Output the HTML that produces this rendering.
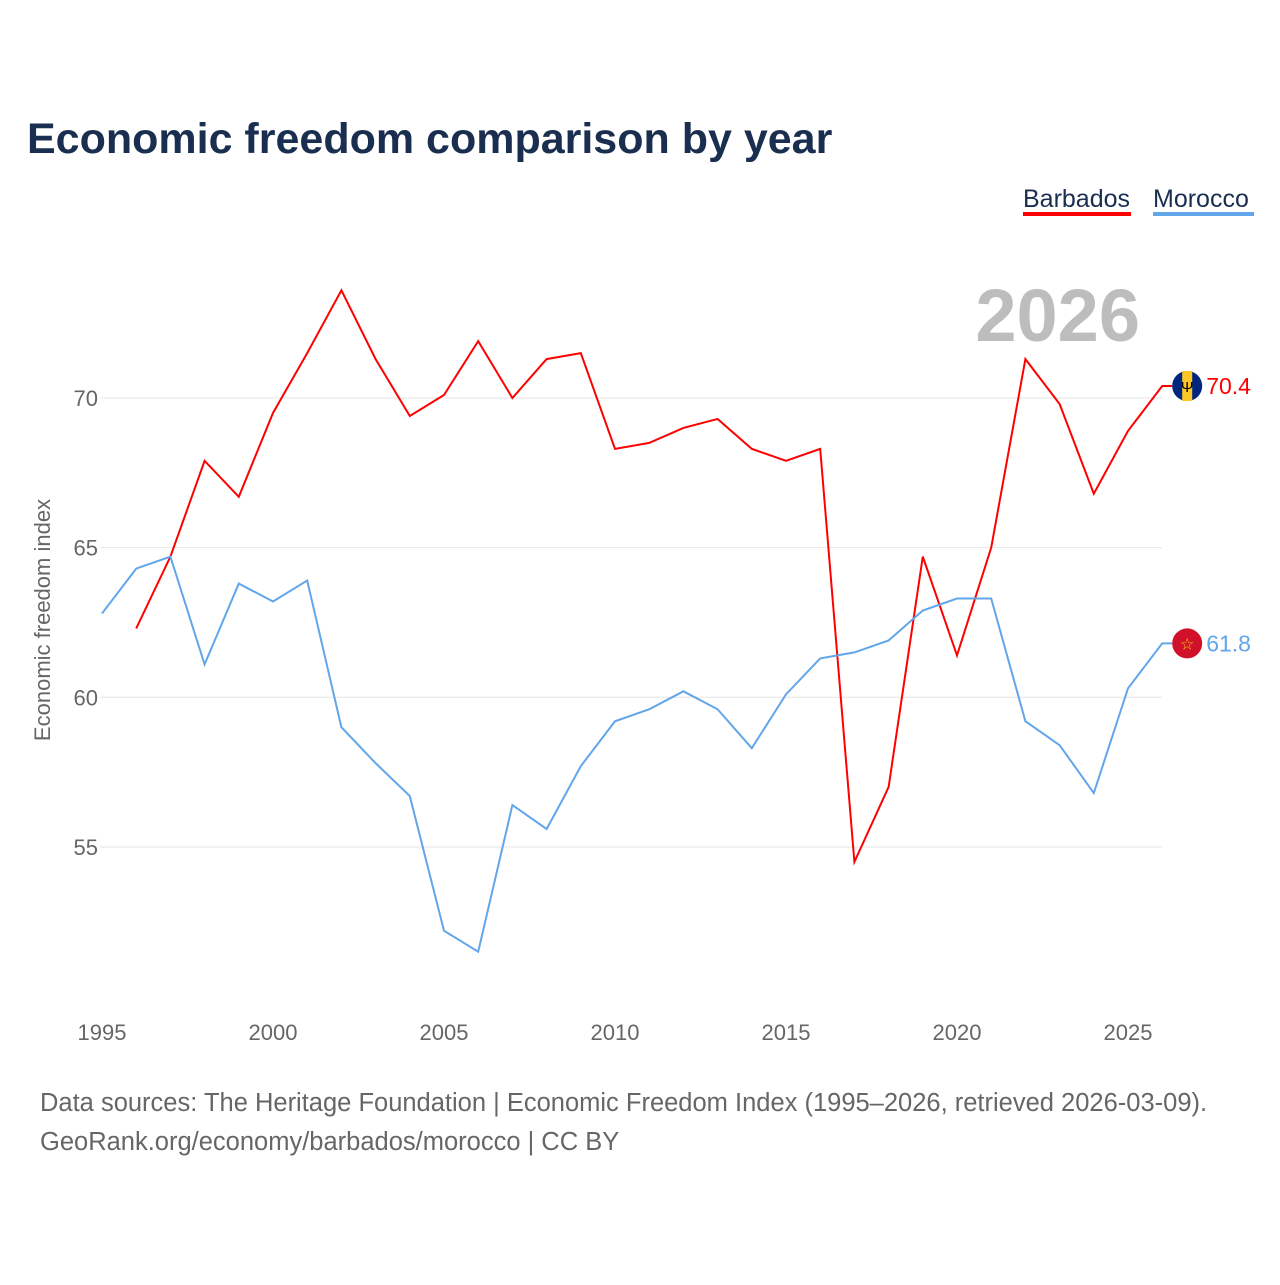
<!DOCTYPE html>
<html><head><meta charset="utf-8"><style>
body{margin:0;background:#fff;font-family:"Liberation Sans",sans-serif;}
svg text{font-family:"Liberation Sans",sans-serif;}
</style></head><body>
<svg width="1280" height="1280">
<text x="27" y="153" font-size="43" font-weight="bold" fill="#1a2e4f">Economic freedom comparison by year</text>
<g>
<text x="1023" y="207" font-size="25" fill="#1a2e4f">Barbados</text>
<rect x="1023" y="212" width="108" height="4" fill="#ff0000"/>
<text x="1153" y="207" font-size="25" fill="#1a2e4f">Morocco</text>
<rect x="1153" y="212" width="101" height="4" fill="#62a6ea"/>
</g>
<text x="1140" y="341" font-size="74" font-weight="bold" fill="#bdbdbd" text-anchor="end">2026</text>
<text transform="translate(50,620) rotate(-90)" font-size="22" fill="#666" text-anchor="middle">Economic freedom index</text>
<g id="grid"></g><g id="xt"></g><g id="lines"></g>
<text x="40" y="1111" font-size="25.5" fill="#666">Data sources: The Heritage Foundation | Economic Freedom Index (1995–2026, retrieved 2026-03-09).</text>
<text x="40" y="1150" font-size="25.5" fill="#666">GeoRank.org/economy/barbados/morocco | CC BY</text>
</svg>
<script>
const years=[1995,1996,1997,1998,1999,2000,2001,2002,2003,2004,2005,2006,2007,2008,2009,2010,2011,2012,2013,2014,2015,2016,2017,2018,2019,2020,2021,2022,2023,2024,2025,2026];
const barbados=[null,62.3,64.7,67.9,66.7,69.5,71.5,73.6,71.3,69.4,70.1,71.9,70.0,71.3,71.5,68.3,68.5,69.0,69.3,68.3,67.9,68.3,54.5,57.0,64.7,61.4,65.0,71.3,69.8,66.8,68.9,70.4];
const morocco=[62.8,64.3,64.7,61.1,63.8,63.2,63.9,59.0,57.8,56.7,52.2,51.5,56.4,55.6,57.7,59.2,59.6,60.2,59.6,58.3,60.1,61.3,61.5,61.9,62.9,63.3,63.3,59.2,58.4,56.8,60.3,61.8];
const yTicks=[55,60,65,70];
const xTicks=[1995,2000,2005,2010,2015,2020,2025];
const NS='http://www.w3.org/2000/svg';
const X=y=>102+(y-1995)*34.2;
const Y=v=>398+(70-v)*29.93;
function mk(t,a,p){const e=document.createElementNS(NS,t);for(const k in a)e.setAttribute(k,a[k]);p.appendChild(e);return e;}
const grid=document.getElementById('grid');
yTicks.forEach(v=>{
 const l=mk('line',{x1:100,x2:1162,y1:Y(v),y2:Y(v),stroke:'#e6e6e6','stroke-width':1},grid);
 
 
 const t=mk('text',{x:98,y:Y(v)+8,'font-size':22,fill:'#666','text-anchor':'end'},grid);t.textContent=v;
 
 
});
const xt=document.getElementById('xt');
xTicks.forEach(v=>{
 const t=mk('text',{x:X(v),y:1040,'font-size':22,fill:'#666','text-anchor':'middle'},xt);t.textContent=v;
 
 
});
const lines=document.getElementById('lines');
function series(vals,color,name){
 let d='';vals.forEach((v,i)=>{if(v==null)return;d+=(d?'L':'M')+X(years[i])+','+Y(v);});
 const last=vals[vals.length-1];const lx=X(years[years.length-1]);
 d+='H'+(lx+10);
 const p=mk('path',{d:d,fill:'none',stroke:color,'stroke-width':2},lines);
 
 
 const c=mk('circle',{cx:lx+25,cy:Y(last),r:15,fill:name=='barbados'?'#00267f':'#d1102a'},lines);
 
 
 if(name=='barbados'){
  const r=mk('rect',{x:lx+20,y:Y(last)-15,width:10,height:30,fill:'#ffc726'},lines);
  
  
  const s=mk('text',{x:lx+25,y:Y(last)+6,'font-size':15,fill:'#000','text-anchor':'middle'},lines);s.textContent='Ψ';
  
  
 } else {
  const s=mk('text',{x:lx+25,y:Y(last)+6,'font-size':16,fill:'#f5c518','text-anchor':'middle'},lines);s.textContent='☆';
  
  
 }
 const t=mk('text',{x:lx+44,y:Y(last)+8,'font-size':23,fill:color},lines);t.textContent=last.toFixed(1);
 
 
}
series(barbados,'#ff0000','barbados');
series(morocco,'#62a6ea','morocco');
</script>
</body></html>
